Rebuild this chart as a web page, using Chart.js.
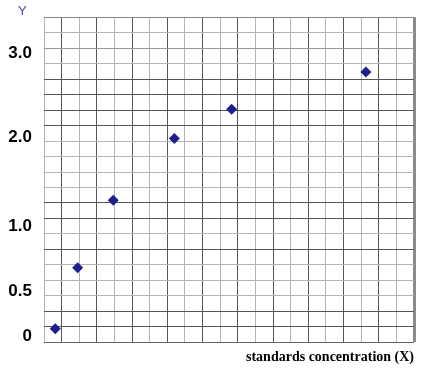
<!DOCTYPE html>
<html>
<head>
<meta charset="utf-8">
<script src="https://cdn.jsdelivr.net/npm/chart.js@4/dist/chart.umd.min.js"></script>
<style>
  html, body { margin: 0; padding: 0; background: #fff; }
  #wrap { width: 424px; height: 368px; }
</style>
</head>
<body>
<div id="wrap"><canvas id="c" width="424" height="368"></canvas></div>
<script>
// Data in grid units (21 x 21 grid squares)
const xValues = [0.64, 1.91, 3.93, 7.40, 10.65, 18.27];
const yValues = [0.88, 4.82, 9.18, 13.16, 15.06, 17.47];
// Y tick labels and where they sit (in the same grid units)
const yTickLabels = ['0', '0.5', '1.0', '2.0', '3.0'];
const yTickPositions = [0.36, 3.30, 7.47, 13.22, 18.69];
const xTitle = 'standards concentration (X)';
const yTitle = 'Y';
const gridCount = 21;

// styles (not data)
const DARK = '#555555', LIGHT = '#b4b4b4';
const yLineShade = ['#666666', DARK, DARK, LIGHT, LIGHT, LIGHT, DARK, LIGHT, DARK, DARK, LIGHT,
                    LIGHT, LIGHT, LIGHT, DARK, DARK, DARK, DARK, LIGHT, '#999999', LIGHT, '#888888'];
const LABEL_FONT = { family: '"Liberation Sans", Arial, sans-serif', size: 17, weight: 'bold', lineHeight: 1.2 };

const points = xValues.map((x, i) => ({ x: x, y: yValues[i] }));

// measure the widest y label so mirrored labels end 12px left of the plot
const mctx = document.createElement('canvas').getContext('2d');
mctx.font = 'bold 17px "Liberation Sans", Arial, sans-serif';
const widestLabel = Math.max(...yTickLabels.map(t => mctx.measureText(t).width));
const LEFT_PAD = 18, AXIS_W = 26, LABEL_RIGHT = 32;

new Chart(document.getElementById('c'), {
  type: 'scatter',
  data: {
    datasets: [{
      data: points,
      pointStyle: 'rectRot',
      pointRadius: 5.5,
      pointHoverRadius: 5.5,
      backgroundColor: '#1e1e8e',
      borderColor: '#1e1e8e',
      borderWidth: 0
    }]
  },
  options: {
    responsive: false,
    animation: false,
    devicePixelRatio: 1,
    layout: { padding: { left: LEFT_PAD, right: 10, top: 0, bottom: 0 } },
    plugins: {
      legend: { display: false },
      tooltip: { enabled: false },
      title: {
        display: true,
        text: yTitle,
        align: 'start',
        color: '#4444a4',
        font: { family: '"Liberation Sans", Arial, sans-serif', size: 13, weight: 'normal', lineHeight: 0.92 },
        padding: { top: 5.3, bottom: 0 }
      }
    },
    scales: {
      x: {
        type: 'linear',
        min: 0,
        max: gridCount,
        ticks: { display: false, stepSize: 1 },
        border: { display: false },
        grid: {
          drawTicks: false,
          color: ctx => {
            const v = ctx.tick.value;
            if (v === gridCount) return '#8a8a8a';
            return (v % 2 === 1) ? DARK : LIGHT;
          },
          lineWidth: ctx => ctx.tick.value === gridCount ? 3 : 1
        },
        title: {
          display: true,
          text: xTitle,
          align: 'end',
          color: '#000',
          font: { family: '"Liberation Serif", "Times New Roman", serif', size: 14, weight: 'bold', lineHeight: 1.2 },
          padding: { top: 6.3, bottom: 2.6 }
        }
      },
      y: {
        type: 'linear',
        min: 0,
        max: gridCount,
        afterBuildTicks: axis => {
          const vals = [];
          for (let i = 0; i <= gridCount; i++) vals.push(i);
          yTickPositions.forEach(p => vals.push(p));
          vals.sort((a, b) => a - b);
          axis.ticks = vals.map(v => ({ value: v }));
        },
        afterFit: axis => { axis.width = AXIS_W; },
        ticks: {
          autoSkip: false,
          mirror: true,
          crossAlign: 'far',
          padding: LABEL_RIGHT - (LEFT_PAD + AXIS_W) - widestLabel,
          color: '#000',
          callback: (value) => {
            const k = yTickPositions.indexOf(value);
            return k >= 0 ? yTickLabels[k] : '';
          },
          font: ctx => {
            const isLabel = ctx.tick && yTickPositions.indexOf(ctx.tick.value) >= 0;
            return isLabel
              ? LABEL_FONT
              : { family: '"Liberation Sans", Arial, sans-serif', size: 1, lineHeight: 1 };
          }
        },
        border: { display: false },
        grid: {
          drawTicks: false,
          color: ctx => {
            const v = ctx.tick.value;
            if (!Number.isInteger(v)) return 'rgba(0,0,0,0)';
            return yLineShade[v];
          }
        }
      }
    }
  }
});
</script>
</body>
</html>
